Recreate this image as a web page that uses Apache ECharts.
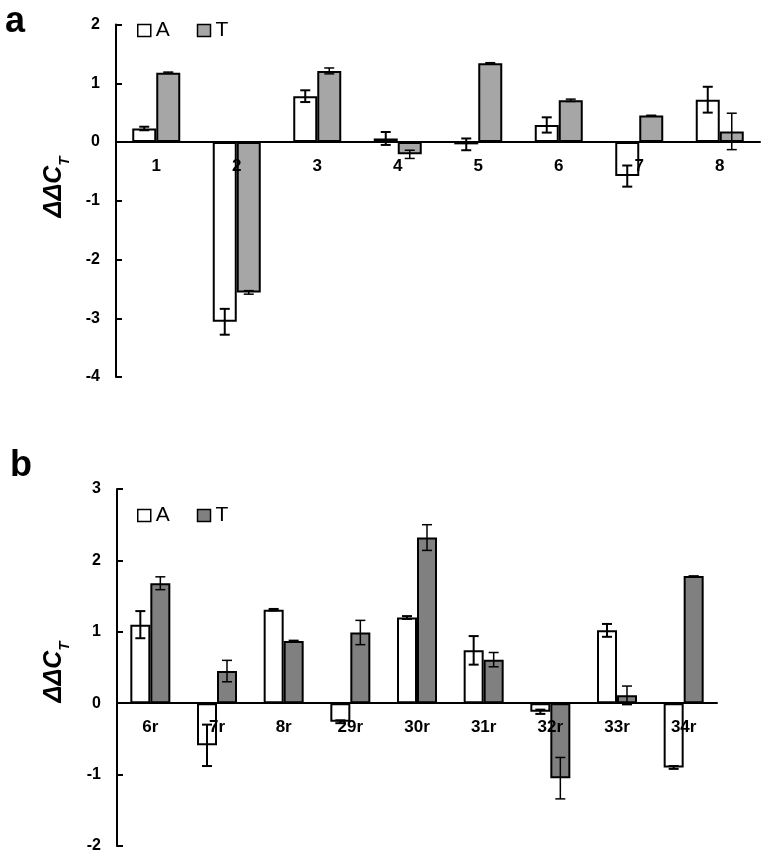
<!DOCTYPE html>
<html>
<head>
<meta charset="utf-8">
<script src="https://cdn.jsdelivr.net/npm/echarts@6/dist/echarts.min.js"></script>
<style>
html,body{margin:0;padding:0;background:#fff;}
#c{width:768px;height:860px;}
</style>
</head>
<body>
<div id="c"></div>
<script>
// Panel a data
const catsA = ['1','2','3','4','5','6','7','8'];
const aValsA = [0.23, -3.06, 0.78, 0.06, -0.04, 0.29, -0.58, 0.72];
const aErrA  = [0.03, 0.22, 0.10, 0.11, 0.10, 0.13, 0.18, 0.22];
const aValsT = [1.18, -2.56, 1.21, -0.21, 1.34, 0.71, 0.45, 0.18];
const aErrT  = [0.01, 0.03, 0.05, 0.07, 0.01, 0.02, 0.005, 0.31];
const aTicks = [-4, -3, -2, -1, 0, 1, 2];

// Panel b data
const catsB = ['6r','7r','8r','29r','30r','31r','32r','33r','34r'];
const bValsA = [1.10, -0.59, 1.31, -0.26, 1.20, 0.74, -0.12, 1.02, -0.90];
const bErrA  = [0.19, 0.29, 0.01, 0.02, 0.02, 0.20, 0.03, 0.09, 0.02];
const bValsT = [1.68, 0.45, 0.87, 0.99, 2.32, 0.61, -1.05, 0.11, 1.78];
const bErrT  = [0.09, 0.15, 0.01, 0.17, 0.18, 0.10, 0.29, 0.13, 0.0];
const bTicks = [-2, -1, 0, 1, 2, 3];

const FONT = 'Liberation Sans, Arial, sans-serif';
const chart = echarts.init(document.getElementById('c'), null, {renderer: 'canvas'});

const gridA = {left: 116, top: 24.5, width: 644, height: 352.5};
const gridB = {left: 117, top: 489, width: 600, height: 357};

function errSeries(name, axisIdx, vals, errs, offset, lw) {
  return {
    type: 'custom', name: name, xAxisIndex: axisIdx, yAxisIndex: axisIdx, z: 5,
    data: vals.map((v, i) => [i, v, errs[i]]),
    encode: {x: 0, y: 1},
    silent: true,
    renderItem: function (params, api) {
      const i = api.value(0), v = api.value(1), e = api.value(2);
      const x = api.coord([i, 0])[0] + offset;
      const yt = api.coord([i, v + e])[1];
      const yb = api.coord([i, v - e])[1];
      const st = {stroke: '#000', lineWidth: lw};
      const cw = 5;
      return {type: 'group', children: [
        {type: 'line', shape: {x1: x, y1: yt, x2: x, y2: yb}, style: st},
        {type: 'line', shape: {x1: x - cw, y1: yt, x2: x + cw, y2: yt}, style: st},
        {type: 'line', shape: {x1: x - cw, y1: yb, x2: x + cw, y2: yb}, style: st}
      ]};
    }
  };
}

// x axis sits on the zero line; offset derived from the value range and grid height
function xAx(idx, cats, ticks, grid) {
  const lo = ticks[0], hi = ticks[ticks.length - 1];
  const off = -((0 - lo) / (hi - lo)) * grid.height;
  return {
    type: 'category', gridIndex: idx, data: cats, position: 'bottom', offset: off, z: 4,
    axisLine: {onZero: false, lineStyle: {color: '#000', width: 2}},
    axisTick: {show: false},
    axisLabel: {color: '#000', fontWeight: 'bold', fontSize: 17, fontFamily: FONT, margin: 16, interval: 0},
    splitLine: {show: false}
  };
}
function yAx(idx, ticks) {
  return {
    type: 'value', gridIndex: idx, min: ticks[0], max: ticks[ticks.length - 1], interval: 1,
    axisLine: {show: true, lineStyle: {color: '#000', width: 2}},
    axisTick: {show: true, inside: true, length: 6, lineStyle: {color: '#000', width: 2}},
    axisLabel: {color: '#000', fontWeight: 'bold', fontSize: 16, fontFamily: FONT, margin: 16},
    splitLine: {show: false}
  };
}

const yName = {
  m: {fontSize: 25, fontWeight: 'bold', fontStyle: 'italic', fontFamily: FONT, lineHeight: 36, fill: '#000'},
  s: {fontSize: 15, fontWeight: 'bold', fontStyle: 'italic', fontFamily: FONT, lineHeight: 36, verticalAlign: 'bottom', fill: '#000'}
};

chart.setOption({
  animation: false,
  backgroundColor: '#fff',
  grid: [gridA, gridB],
  xAxis: [xAx(0, catsA, aTicks, gridA), xAx(1, catsB, bTicks, gridB)],
  yAxis: [yAx(0, aTicks), yAx(1, bTicks)],
  legend: [
    {left: 132, top: 15, itemWidth: 13, itemHeight: 12, itemGap: 27, icon: 'rect',
     textStyle: {fontSize: 21, fontFamily: FONT, color: '#000'},
     data: [{name: 'A', itemStyle: {color: '#fff', borderColor: '#000', borderWidth: 1.5}},
            {name: 'T', itemStyle: {color: '#a6a6a6', borderColor: '#000', borderWidth: 1.5}}],
     selectedMode: false},
    {left: 132, top: 500, itemWidth: 13, itemHeight: 12, itemGap: 27, icon: 'rect',
     textStyle: {fontSize: 21, fontFamily: FONT, color: '#000'},
     data: [{name: 'A', itemStyle: {color: '#fff', borderColor: '#000', borderWidth: 1.5}},
            {name: 'T', itemStyle: {color: '#808080', borderColor: '#000', borderWidth: 1.5}}],
     selectedMode: false}
  ],
  graphic: [
    {type: 'text', left: 5, top: 4, style: {text: 'a', font: 'bold 36px ' + FONT, fill: '#000'}},
    {type: 'text', left: 10, top: 448, style: {text: 'b', font: 'bold 36px ' + FONT, fill: '#000'}},
    {type: 'text', x: 54, y: 187, rotation: Math.PI / 2,
     style: {text: '{m|ΔΔC}{s|T}', rich: yName, align: 'center', verticalAlign: 'middle'}},
    {type: 'text', x: 54, y: 672, rotation: Math.PI / 2,
     style: {text: '{m|ΔΔC}{s|T}', rich: yName, align: 'center', verticalAlign: 'middle'}}
  ],
  series: [
    {type: 'bar', name: 'A', xAxisIndex: 0, yAxisIndex: 0, data: aValsA, barWidth: 24, barGap: '0%',
     itemStyle: {color: '#fff', borderColor: '#000', borderWidth: 2}},
    {type: 'bar', name: 'T', xAxisIndex: 0, yAxisIndex: 0, data: aValsT, barWidth: 24, barGap: '0%',
     itemStyle: {color: '#a6a6a6', borderColor: '#000', borderWidth: 2}},
    errSeries('errAa', 0, aValsA, aErrA, -12, 2),
    errSeries('errAt', 0, aValsT, aErrT, 12, 1.5),
    {type: 'bar', name: 'A', xAxisIndex: 1, yAxisIndex: 1, data: bValsA, barWidth: 20, barGap: '0%',
     itemStyle: {color: '#fff', borderColor: '#000', borderWidth: 2}},
    {type: 'bar', name: 'T', xAxisIndex: 1, yAxisIndex: 1, data: bValsT, barWidth: 20, barGap: '0%',
     itemStyle: {color: '#808080', borderColor: '#000', borderWidth: 2}},
    errSeries('errBa', 1, bValsA, bErrA, -10, 2),
    errSeries('errBt', 1, bValsT, bErrT, 10, 1.5)
  ]
});
</script>
</body>
</html>
